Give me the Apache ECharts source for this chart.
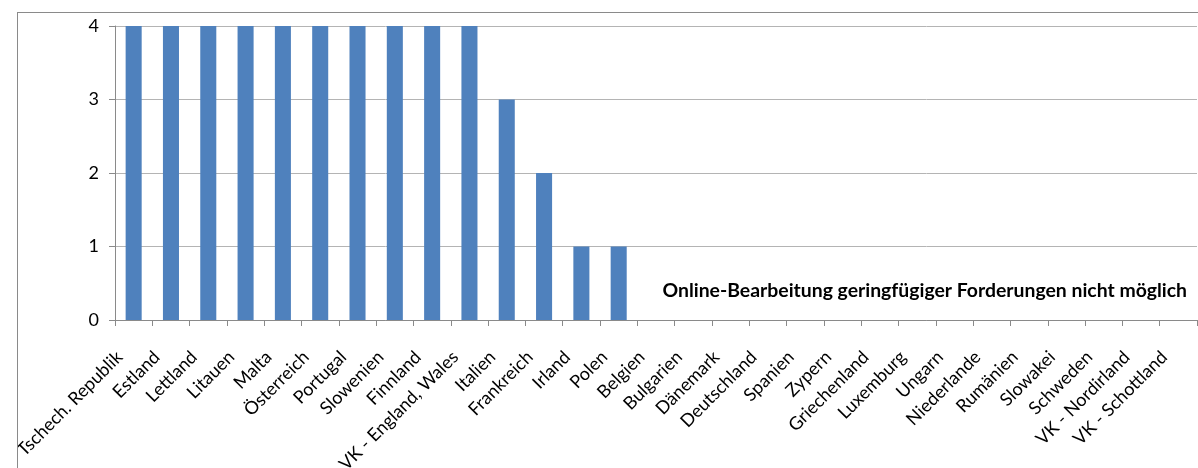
<!DOCTYPE html>
<html>
<head>
<meta charset="utf-8">
<script src="https://cdn.jsdelivr.net/npm/echarts@6/dist/echarts.min.js"></script>
<style>
html,body{margin:0;padding:0;background:#fff;width:1198px;height:468px;overflow:hidden;}
#frame{position:absolute;left:17px;top:12px;width:1181px;height:456px;border-left:1px solid #8a8a8a;border-top:1px solid #8a8a8a;overflow:hidden;}
#chart{position:absolute;left:0;top:0;width:1181px;height:456px;}
</style>
</head>
<body>
<div id="frame"><div id="chart"></div></div>
<script>
const categories = ["Tschech. Republik","Estland","Lettland","Litauen","Malta","Österreich","Portugal","Slowenien","Finnland","VK - England, Wales","Italien","Frankreich","Irland","Polen","Belgien","Bulgarien","Dänemark","Deutschland","Spanien","Zypern","Griechenland","Luxemburg","Ungarn","Niederlande","Rumänien","Slowakei","Schweden","VK - Nordirland","VK - Schottland"];
const values = [4,4,4,4,4,4,4,4,4,4,3,2,1,1,0,0,0,0,0,0,0,0,0,0,0,0,0,0,0];
const yTicks = [0,1,2,3,4];
const annotation = "Online-Bearbeitung geringfügiger Forderungen nicht möglich";

const chart = echarts.init(document.getElementById('chart'), null, {renderer:'canvas'});
const font = 'Lato, "Open Sans", sans-serif';
chart.setOption({
  animation:false,
  title:{
    text: annotation,
    right: 7,
    top: 263,
    textStyle:{fontFamily:font,fontSize:19.4,fontWeight:'bold',color:'#000'}
  },
  grid:{left:97,top:13,right:2,bottom:149,containLabel:false,outerBoundsMode:'none'},
  xAxis:{
    type:'category',
    data:categories,
    axisLine:{lineStyle:{color:'#8a8a8a',width:1}},
    axisTick:{show:true,length:6,lineStyle:{color:'#8a8a8a'}},
    axisLabel:{rotate:45,margin:20,interval:0,padding:[0,20,0,0],fontFamily:font,fontSize:18,color:'#000'}
  },
  yAxis:{
    type:'value',
    min:yTicks[0],
    max:yTicks[yTicks.length-1],
    interval:1,
    axisLine:{show:true,lineStyle:{color:'#8a8a8a',width:1}},
    axisTick:{show:true,length:6,lineStyle:{color:'#8a8a8a'}},
    axisLabel:{margin:16,fontFamily:font,fontSize:18,color:'#000'},
    splitLine:{show:true,lineStyle:{color:'#b4b4b4',width:1}}
  },
  series:[{
    type:'bar',
    data:values,
    barWidth:'43%',
    itemStyle:{color:'#4f81bd'}
  }]
});
</script>
</body>
</html>
